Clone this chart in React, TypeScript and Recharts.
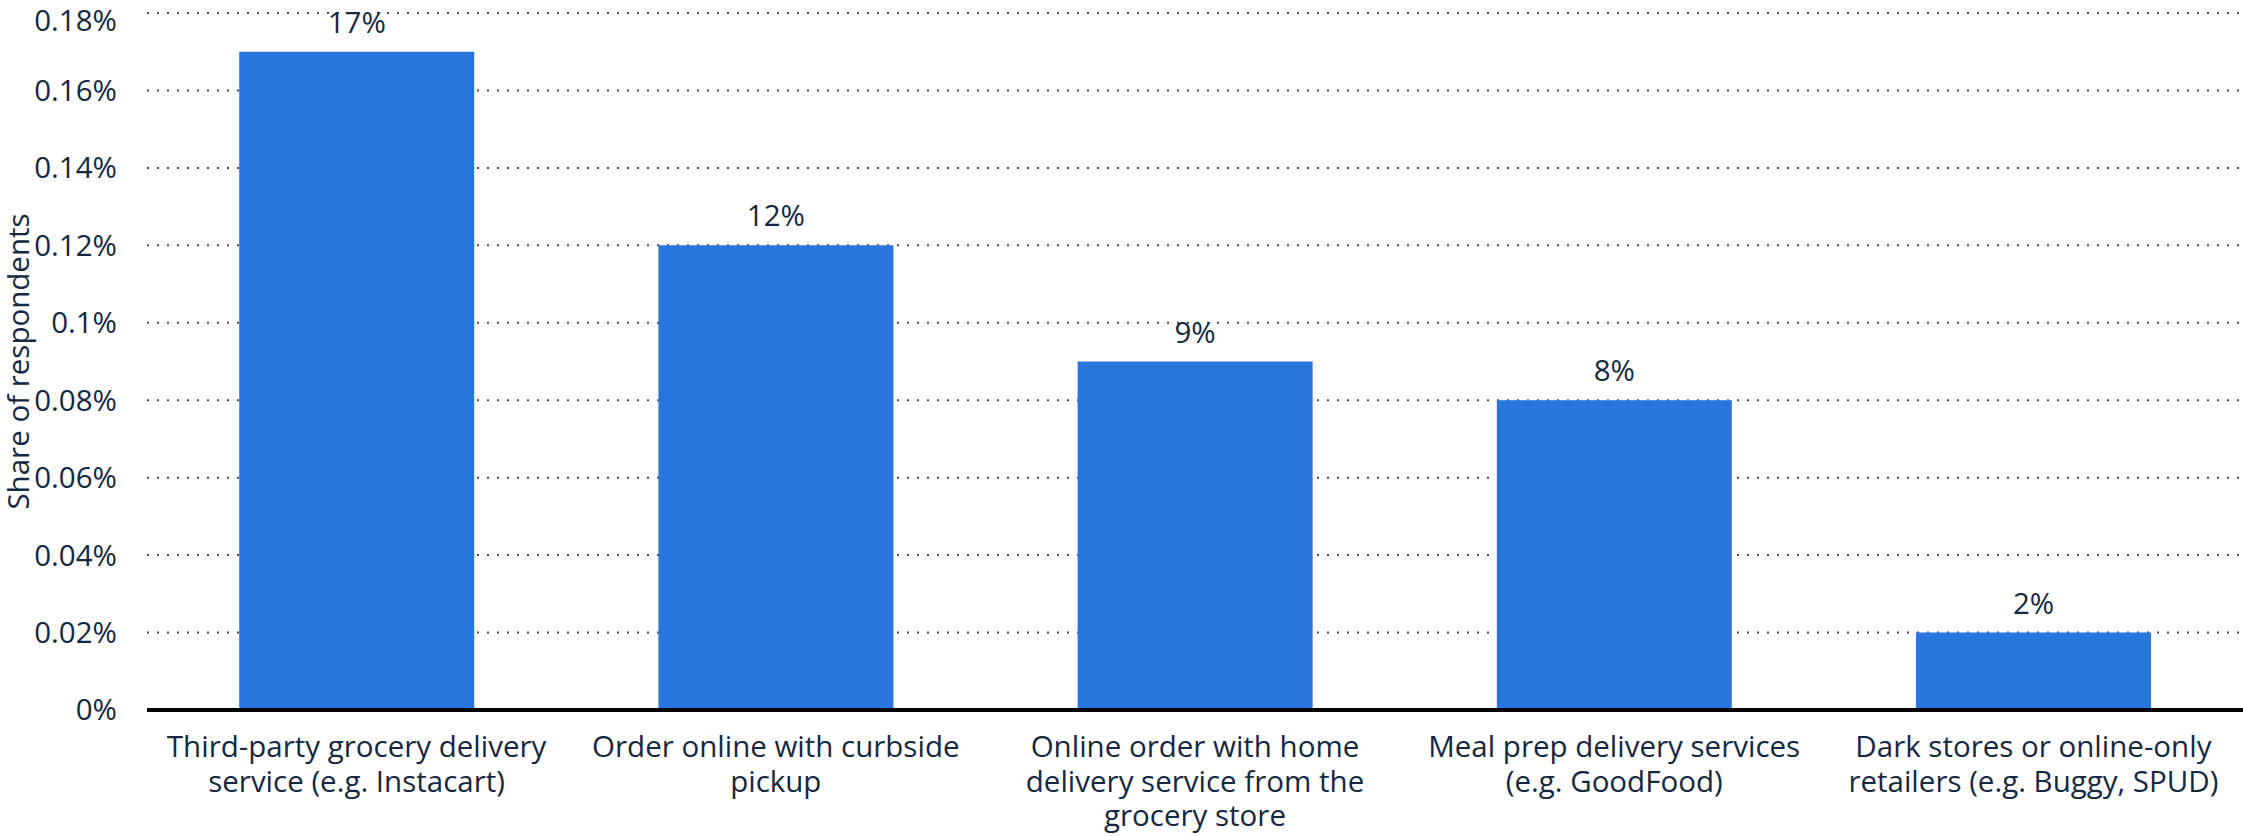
import React from "react";
import { BarChart, Bar, XAxis, YAxis, CartesianGrid, LabelList, Label } from "recharts";

// Grocery shopping methods used by respondents
const categories: string[] = [
  "Third-party grocery delivery\nservice (e.g. Instacart)",
  "Order online with curbside\npickup",
  "Online order with home\ndelivery service from the\ngrocery store",
  "Meal prep delivery services\n(e.g. GoodFood)",
  "Dark stores or online-only\nretailers (e.g. Buggy, SPUD)",
];
const shares: number[] = [0.17, 0.12, 0.09, 0.08, 0.02];
const yTicks: number[] = [0, 0.02, 0.04, 0.06, 0.08, 0.1, 0.12, 0.14, 0.16, 0.18];
const yAxisTitle = "Share of respondents";

const data = categories.map((name, i) => ({ name, value: shares[i] }));

const FONT = "'Open Sans', 'Noto Sans', sans-serif";
const FONT_SIZE = 29.5;
const TEXT = "#14283f";
const BAR = "#2876dd";

const CategoryTick = (props: any) => {
  const { x, y, payload } = props;
  const lines = String(payload.value).split("\n");
  return (
    <text
      x={x}
      y={y + 47}
      textAnchor="middle"
      fill={TEXT}
      fontSize={FONT_SIZE}
      fontFamily={FONT}
    >
      {lines.map((line, i) => (
        <tspan key={i} x={x} dy={i === 0 ? 0 : 34.5}>
          {line}
        </tspan>
      ))}
    </text>
  );
};

const AxisTitle = (props: any) => {
  const vb = props.viewBox || {};
  const cy = (vb.y ?? 0) + (vb.height ?? 0) / 2;
  const cx = 17;
  return (
    <text
      x={cx}
      y={cy}
      transform={`rotate(-90, ${cx}, ${cy})`}
      textAnchor="middle"
      dominantBaseline="central"
      fill={TEXT}
      fontSize={FONT_SIZE}
      fontFamily={FONT}
    >
      {yAxisTitle}
    </text>
  );
};

export default function App() {
  return (
    <div style={{ position: "absolute", left: 0, top: 0, width: 2243, height: 836, background: "#fff" }}>
      <BarChart
        width={2243}
        height={836}
        data={data}
        margin={{ top: 13, right: 0, bottom: 0, left: 0 }}
        barCategoryGap="22%"
      >
        <CartesianGrid
          vertical={false}
          stroke="#4a4a4a"
          strokeWidth={2}
          strokeDasharray="2 8"
        />
        <XAxis
          dataKey="name"
          height={126}
          axisLine={{ stroke: "#000", strokeWidth: 4 }}
          tickLine={false}
          tickSize={0}
          tickMargin={0}
          interval={0}
          tick={<CategoryTick />}
        />
        <YAxis
          width={147}
          domain={[0, 0.18]}
          ticks={yTicks}
          axisLine={false}
          tickLine={false}
          tickSize={0}
          tickMargin={30}
          tickFormatter={(v: number) => `${v}%`}
          tick={{ fill: TEXT, fontSize: FONT_SIZE, fontFamily: FONT }}
        >
          <Label content={<AxisTitle />} />
        </YAxis>
        <Bar dataKey="value" fill={BAR} isAnimationActive={false}>
          <LabelList
            dataKey="value"
            position="top"
            offset={19}
            formatter={(v: number) => `${Math.round(v * 100)}%`}
            style={{ fill: TEXT, fontSize: FONT_SIZE, fontFamily: FONT }}
          />
        </Bar>
      </BarChart>
    </div>
  );
}
